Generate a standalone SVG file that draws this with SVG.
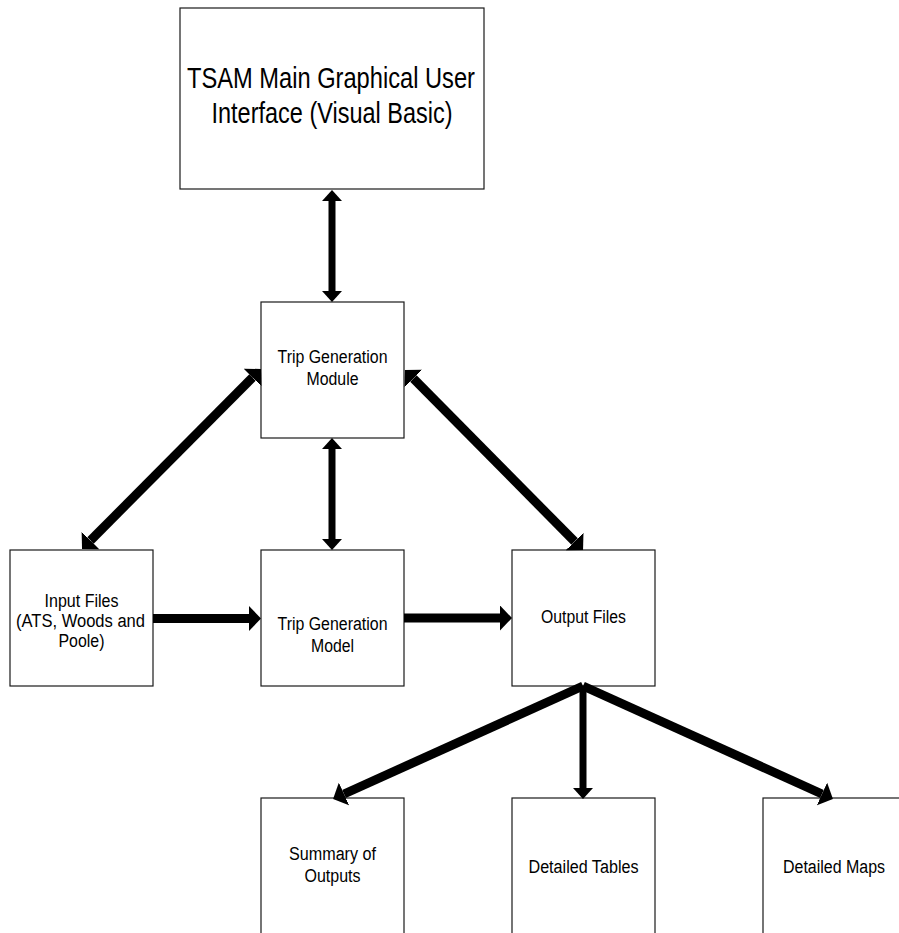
<svg xmlns="http://www.w3.org/2000/svg" width="899" height="933" viewBox="0 0 899 933">
<style>
  .box { fill: #ffffff; stroke: #1a1a1a; stroke-width: 1.2; }
  .t { font-family: "Liberation Sans", Arial, sans-serif; font-size: 18px; fill: #000000; text-anchor: middle; }
  .tb { font-family: "Liberation Sans", Arial, sans-serif; font-size: 30px; fill: #000000; text-anchor: middle; }
  .c { fill: none; stroke: #000000; stroke-linecap: butt; }
  .w6 { stroke-width: 7; }
  .w9 { stroke-width: 9; }
</style>
<defs>
  <marker id="hs" markerUnits="userSpaceOnUse" viewBox="0 0 11 20" refX="0" refY="10" markerWidth="11" markerHeight="20" orient="auto-start-reverse">
    <path d="M0,0 L11,10 L0,20 z" fill="#000000"/>
  </marker>
  <marker id="hl" markerUnits="userSpaceOnUse" viewBox="0 0 12 25" refX="0" refY="12.5" markerWidth="12" markerHeight="25" orient="auto-start-reverse">
    <path d="M0,0 L12,12.5 L0,25 z" fill="#000000"/>
  </marker>
</defs>

<g id="gui">
  <rect class="box" x="180" y="8" width="304" height="181"/>
  <text class="tb" x="331" y="88" textLength="288" lengthAdjust="spacingAndGlyphs">TSAM Main Graphical User</text>
  <text class="tb" x="332" y="123" textLength="241" lengthAdjust="spacingAndGlyphs">Interface (Visual Basic)</text>
</g>

<g id="module">
  <rect class="box" x="261" y="302" width="143" height="136"/>
  <text class="t" x="332.5" y="363" textLength="110" lengthAdjust="spacingAndGlyphs">Trip Generation</text>
  <text class="t" x="332.5" y="385" textLength="52" lengthAdjust="spacingAndGlyphs">Module</text>
</g>

<g id="input">
  <rect class="box" x="10" y="550" width="143" height="136"/>
  <text class="t" x="81.5" y="607" textLength="74" lengthAdjust="spacingAndGlyphs">Input Files</text>
  <text class="t" x="80.5" y="627" textLength="129" lengthAdjust="spacingAndGlyphs">(ATS, Woods and</text>
  <text class="t" x="81.5" y="647" textLength="46" lengthAdjust="spacingAndGlyphs">Poole)</text>
</g>

<g id="model">
  <rect class="box" x="261" y="550" width="143" height="136"/>
  <text class="t" x="332.5" y="630" textLength="110" lengthAdjust="spacingAndGlyphs">Trip Generation</text>
  <text class="t" x="332.5" y="652" textLength="43" lengthAdjust="spacingAndGlyphs">Model</text>
</g>

<g id="output">
  <rect class="box" x="512" y="550" width="143" height="136"/>
  <text class="t" x="583.5" y="623" textLength="85" lengthAdjust="spacingAndGlyphs">Output Files</text>
</g>

<g id="summary">
  <rect class="box" x="261" y="798" width="143" height="140"/>
  <text class="t" x="332.5" y="860" textLength="87" lengthAdjust="spacingAndGlyphs">Summary of</text>
  <text class="t" x="332.5" y="882" textLength="56" lengthAdjust="spacingAndGlyphs">Outputs</text>
</g>

<g id="tables">
  <rect class="box" x="512" y="798" width="143" height="140"/>
  <text class="t" x="583.5" y="873" textLength="110" lengthAdjust="spacingAndGlyphs">Detailed Tables</text>
</g>

<g id="maps">
  <rect class="box" x="763" y="798" width="143" height="140"/>
  <text class="t" x="834" y="873" textLength="102" lengthAdjust="spacingAndGlyphs">Detailed Maps</text>
</g>

<g id="connectors">
  <line class="c w6" x1="332" y1="201" x2="332" y2="291" marker-start="url(#hs)" marker-end="url(#hs)"/>
  <line class="c w6" x1="332" y1="449" x2="332" y2="539" marker-start="url(#hs)" marker-end="url(#hs)"/>
  <line class="c w9" x1="252.5" y1="377.5" x2="90.5" y2="540.5" marker-start="url(#hl)" marker-end="url(#hl)"/>
  <line class="c w9" x1="413.4" y1="378.5" x2="574.6" y2="541.5" marker-start="url(#hl)" marker-end="url(#hl)"/>
  <line class="c w9" x1="153" y1="618.5" x2="249" y2="618.5" marker-end="url(#hl)"/>
  <line class="c w9" x1="404" y1="618" x2="500" y2="618" marker-end="url(#hl)"/>
  <line class="c w9" x1="583" y1="686" x2="344" y2="794" marker-end="url(#hl)"/>
  <line class="c w6" x1="583" y1="686" x2="583" y2="788" marker-end="url(#hs)"/>
  <line class="c w9" x1="583" y1="686" x2="822" y2="794" marker-end="url(#hl)"/>
</g>
</svg>
